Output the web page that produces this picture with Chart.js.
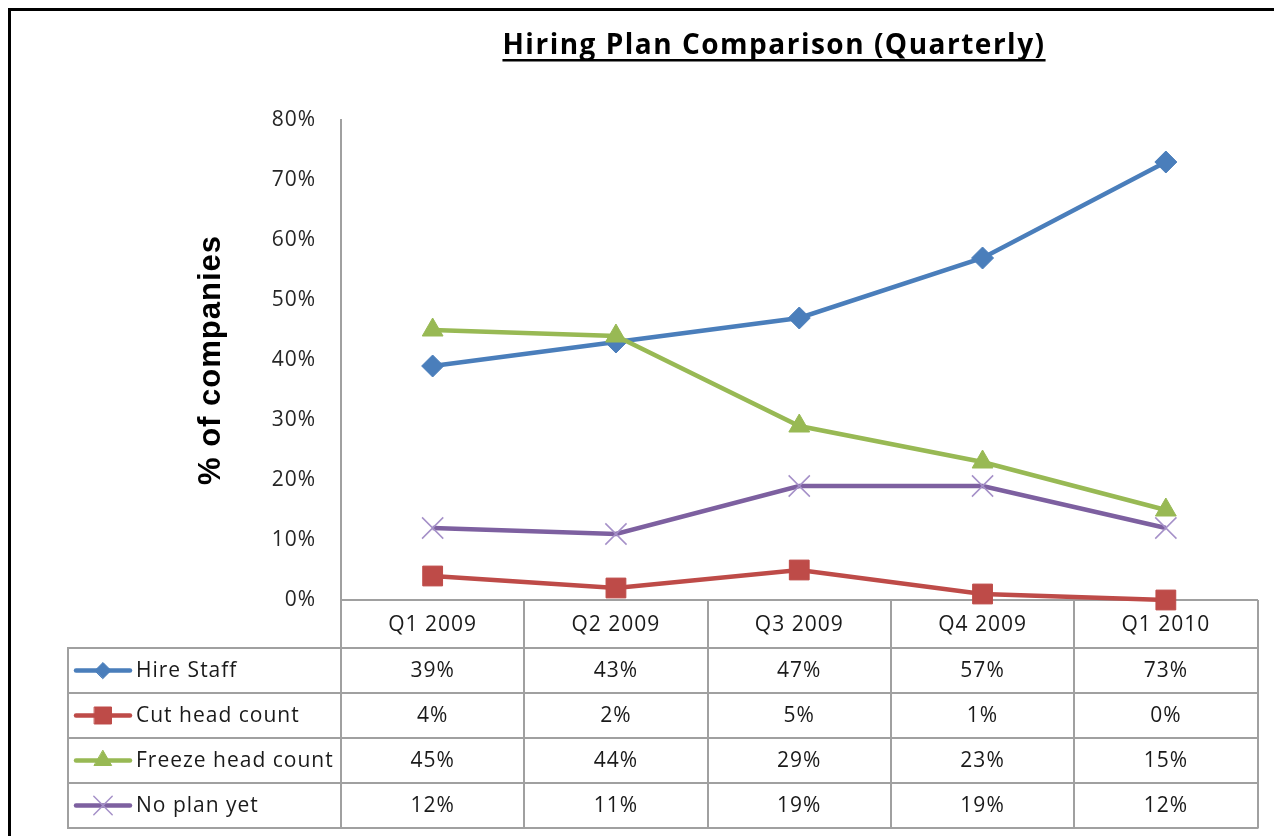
<!DOCTYPE html>
<html>
<head>
<meta charset="utf-8">
<script src="https://cdn.jsdelivr.net/npm/chart.js@4/dist/chart.umd.min.js"></script>
<style>
  html, body { margin: 0; padding: 0; background: #fff; }
  canvas { display: block; }
</style>
</head>
<body>
<canvas id="chart" width="1274" height="836"></canvas>
<script>
const quarters = ['Q1 2009', 'Q2 2009', 'Q3 2009', 'Q4 2009', 'Q1 2010'];
const hireStaff = [39, 43, 47, 57, 73];
const cutHeadCount = [4, 2, 5, 1, 0];
const freezeHeadCount = [45, 44, 29, 23, 15];
const noPlanYet = [12, 11, 19, 19, 12];
const yTicks = [0, 10, 20, 30, 40, 50, 60, 70, 80];

const textFont = 'Open Sans';
const gridGray = '#a0a0a0';

const series = [
  { label: 'Hire Staff', data: hireStaff, color: '#4A7EBB', style: 'rectRot', radius: 11, legendRadius: 8, pointBorder: '#4A7EBB', order: 4 },
  { label: 'Cut head count', data: cutHeadCount, color: '#BE4B48', style: 'rect', radius: 14, legendRadius: 12, pointBorder: '#BE4B48', order: 3 },
  { label: 'Freeze head count', data: freezeHeadCount, color: '#98B954', style: 'triangle', radius: 12, legendRadius: 10, pointBorder: '#98B954', order: 2 },
  { label: 'No plan yet', data: noPlanYet, color: '#7D60A0', style: 'crossRot', radius: 15, legendRadius: 13, pointBorder: '#A590C8', order: 1 }
];

// frame, title and the data table below the plot
const excelLook = {
  id: 'excelLook',
  beforeDraw(chart) {
    const ctx = chart.ctx;
    ctx.save();
    ctx.fillStyle = '#fff';
    ctx.fillRect(0, 0, chart.width, chart.height);
    ctx.fillStyle = '#000';
    ctx.fillRect(8, 8, chart.width - 8, 3);
    ctx.fillRect(8, 8, 3, chart.height - 8);

    // underlined title
    const title = 'Hiring Plan Comparison (Quarterly)';
    ctx.font = 'bold 28px "' + textFont + '"';
    ctx.letterSpacing = '1.5px';
    ctx.textAlign = 'left';
    ctx.textBaseline = 'alphabetic';
    ctx.fillStyle = '#000';
    const w = ctx.measureText(title).width;
    ctx.fillText(title, 774 - w / 2, 54);
    ctx.fillRect(774 - w / 2, 59, w, 2.5);
    ctx.restore();
    // slightly wider text for the axis labels, like the stretched original
    ctx.letterSpacing = '1px';
  },
  afterDraw(chart) {
    const ctx = chart.ctx;
    const x = chart.scales.x;
    const area = chart.chartArea;
    const n = quarters.length;
    const colW = (x.right - x.left) / n;
    const tableLeft = 68;
    const rowTop = x.bottom;
    const rowH = 45;
    const tableBottom = rowTop + rowH * series.length;

    ctx.save();
    ctx.strokeStyle = gridGray;
    ctx.lineWidth = 2;
    ctx.beginPath();
    // column lines (the first one continues the y axis)
    for (let i = 0; i <= n; i++) {
      const cx = Math.round(x.left + i * colW);
      ctx.moveTo(cx, area.bottom);
      ctx.lineTo(cx, tableBottom);
    }
    ctx.moveTo(tableLeft, rowTop);
    ctx.lineTo(tableLeft, tableBottom);
    for (let r = 0; r <= series.length; r++) {
      const ry = Math.round(rowTop + r * rowH);
      ctx.moveTo(tableLeft - 1, ry);
      ctx.lineTo(x.right + 1, ry);
    }
    ctx.stroke();

    ctx.font = '21px "' + textFont + '"';
    ctx.letterSpacing = '1px';
    ctx.textBaseline = 'middle';

    series.forEach((s, r) => {
      const cy = rowTop + r * rowH + rowH / 2;
      // legend key
      ctx.strokeStyle = s.color;
      ctx.lineWidth = 4.5;
      ctx.lineCap = 'round';
      ctx.beginPath();
      ctx.moveTo(76, cy);
      ctx.lineTo(130, cy);
      ctx.stroke();
      ctx.fillStyle = s.color;
      ctx.strokeStyle = s.pointBorder;
      ctx.lineWidth = s.style === 'crossRot' ? 1.5 : 1;
      Chart.helpers.drawPoint(ctx, { pointStyle: s.style, radius: s.legendRadius, rotation: 0, borderWidth: ctx.lineWidth }, 103, cy);

      ctx.fillStyle = '#1a1a1a';
      ctx.textAlign = 'left';
      ctx.fillText(s.label, 136, cy + 1);
      ctx.textAlign = 'center';
      s.data.forEach((v, i) => {
        ctx.fillText(v + '%', x.getPixelForValue(i), cy + 1);
      });
    });
    ctx.restore();
  }
};

const ctx = document.getElementById('chart').getContext('2d');
new Chart(ctx, {
  type: 'line',
  data: {
    labels: quarters,
    datasets: series.map(s => ({
      label: s.label,
      data: s.data,
      order: s.order,
      borderColor: s.color,
      borderWidth: 4.5,
      tension: 0,
      clip: false,
      pointStyle: s.style,
      pointRadius: s.radius,
      pointBackgroundColor: s.color,
      pointBorderColor: s.pointBorder,
      pointBorderWidth: s.style === 'crossRot' ? 1.5 : 1
    }))
  },
  options: {
    responsive: false,
    animation: false,
    layout: {
      padding: { top: 120, left: 0, right: 7, bottom: 188 }
    },
    plugins: {
      legend: { display: false },
      title: { display: false },
      tooltip: { enabled: false }
    },
    scales: {
      x: {
        offset: true,
        grid: { display: false, drawTicks: false },
        border: { display: true, color: gridGray, width: 2 },
        ticks: {
          padding: 12,
          color: '#1a1a1a',
          font: { family: textFont, size: 21 }
        },
        afterFit: (scale) => { scale.height = 48; }
      },
      y: {
        min: 0,
        max: 80,
        afterBuildTicks: (scale) => { scale.ticks = yTicks.map(v => ({ value: v })); },
        grid: { display: false, drawTicks: false },
        border: { display: true, color: gridGray, width: 2 },
        ticks: {
          padding: 25,
          color: '#262626',
          font: { family: textFont, size: 21 },
          callback: (v) => v + '%'
        },
        title: {
          display: true,
          text: '% of companies',
          color: '#000',
          font: { family: 'Liberation Sans', size: 31, weight: 'bold' },
          padding: { top: 193, bottom: 0 }
        },
        afterFit: (scale) => { scale.width = 341; }
      }
    }
  },
  plugins: [excelLook]
});
</script>
</body>
</html>
